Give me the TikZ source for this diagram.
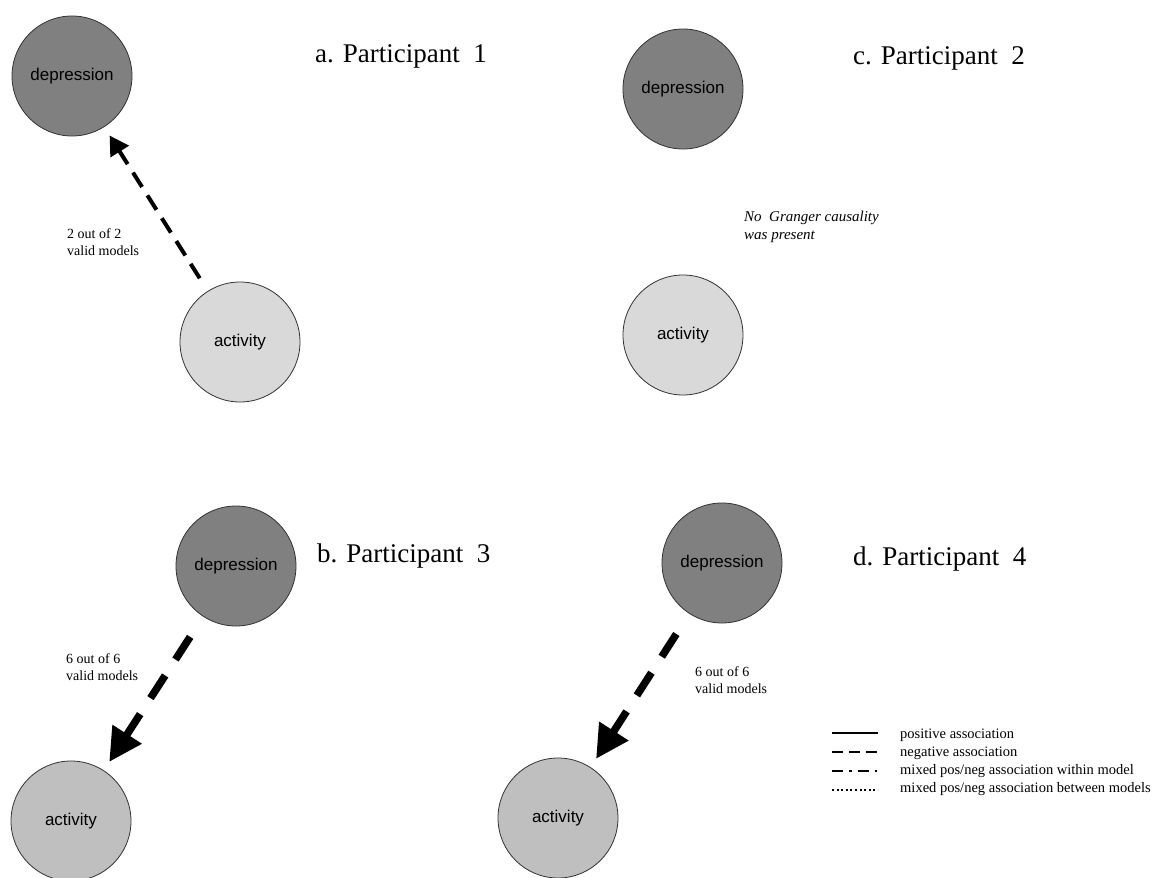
\documentclass[tikz,border=0pt]{standalone}
\usepackage{fontspec}
\setmainfont{Liberation Serif}
\newfontfamily\circfont{Liberation Sans}
\usetikzlibrary{arrows.meta,positioning}

\begin{document}
\begin{tikzpicture}[
    x=1pt, y=-1pt,
    varnode/.style={circle, draw=black!80, line width=0.8pt, minimum size=120pt, inner sep=0pt, fill=#1, font=\circfont\fontsize{17}{20}\selectfont},
    paneltitle/.style={anchor=base west, inner sep=0pt, font=\fontsize{27}{32}\selectfont},
    notetext/.style={anchor=west, align=left, inner sep=0pt, font=\fontsize{14}{16.5}\selectfont},
    thinarrow/.style={line width=4pt, dash pattern=on 17pt off 10pt, -{Triangle[length=19pt,width=21pt]}, shorten <=15pt, shorten >=10pt},
    thickarrow/.style={line width=7.5pt, dash pattern=on 27pt off 19pt, -{Triangle[length=33pt,width=33pt]}, shorten <=24pt, shorten >=10pt},
    legline/.style={line width=2pt, #1},
    legtext/.style={anchor=west, inner sep=0pt, font=\fontsize{14.5}{17}\selectfont}
]
\useasboundingbox (0,0) rectangle (1173,878);

% a. Participant 1
\node[varnode=black!50] (depa) at (72,76) {depression};
\node[varnode=black!15] (acta) at (240,342) {activity};
\draw[thinarrow] (acta) -- (depa);
\node[notetext] (laba) at (67,242) {2 out of 2\\valid models};
\node[paneltitle] (tita) at (315,62) {a. Participant\ \ 1};

% c. Participant 2
\node[varnode=black!50] (depc) at (683,89) {depression};
\node[varnode=black!15] (actc) at (683,335) {activity};
\node[notetext, font=\itshape\fontsize{15}{18.5}\selectfont] (labc) at (744,227) {No\ \ Granger causality\\was present};
\node[paneltitle] (titc) at (853,64) {c. Participant\ \ 2};

% b. Participant 3
\node[varnode=black!50] (depb) at (236,566) {depression};
\node[varnode=black!25] (actb) at (71,821) {activity};
\draw[thickarrow] (depb) -- (actb);
\node[notetext] (labb) at (66,667) {6 out of 6\\valid models};
\node[paneltitle] (titb) at (317,562) {b. Participant\ \ 3};

% d. Participant 4
\node[varnode=black!50] (depd) at (722,563) {depression};
\node[varnode=black!25] (actd) at (558,818) {activity};
\draw[thickarrow] (depd) -- (actd);
\node[notetext] (labd) at (695,680) {6 out of 6\\valid models};
\node[paneltitle] (titd) at (853,565) {d. Participant\ \ 4};

% Legend
\draw[legline] (832,733) -- (878,733);
\draw[legline={dash pattern=on 11pt off 6pt}] (832,752) -- (878,752);
\draw[legline={dash pattern=on 11pt off 6pt on 2.5pt off 6pt}] (832,771) -- (877,771);
\draw[legline={dash pattern=on 2pt off 2.6pt}] (832,790) -- (878,790);
\node[legtext] (legpos) at (900,735) {positive association};
\node[legtext] (legneg) at (900,753) {negative association};
\node[legtext] (legwithin) at (900,771) {mixed pos/neg association within model};
\node[legtext] (legbetween) at (900,789) {mixed pos/neg association between models};

\end{tikzpicture}
\end{document}
